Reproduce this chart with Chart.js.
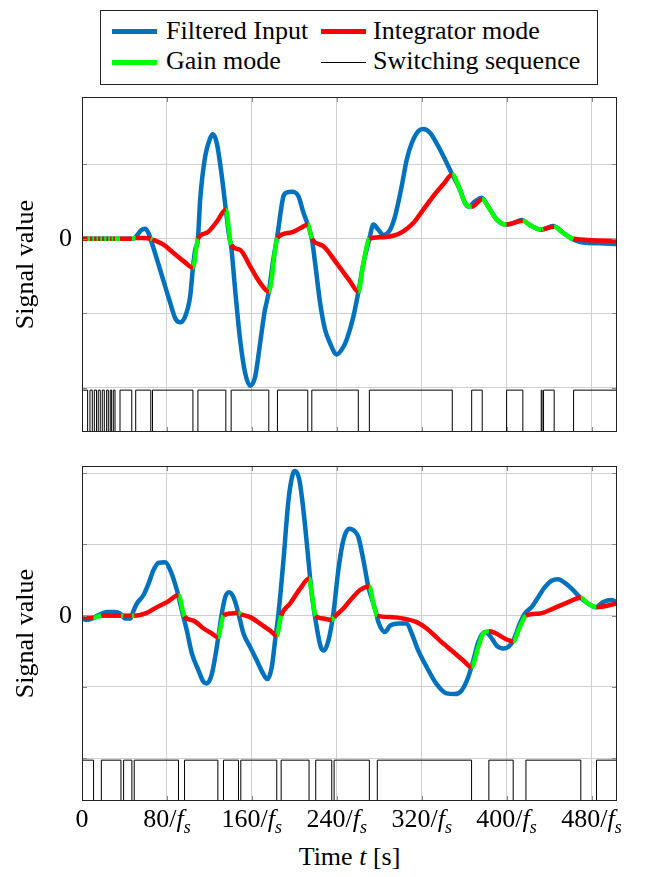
<!DOCTYPE html>
<html>
<head>
<meta charset="utf-8">
<script src="https://cdn.jsdelivr.net/npm/chart.js@4.4.1/dist/chart.umd.min.js"></script>
<style>
  body { margin: 0; background: #fff; }
  #page { position: relative; width: 648px; height: 877px; font-family: "Liberation Serif", "Times New Roman", serif; color: #000; }
  .panel { position: absolute; left: 0; width: 648px; height: 350px; }
  #legendBox { position: absolute; left: 100px; top: 10px; width: 498px; height: 75px; box-sizing: border-box; border: 1px solid #222; }
  .swatch { position: absolute; width: 45px; }
  .ltext, .xlab, #xtitle { position: absolute; font-size: 26px; line-height: 30px; white-space: nowrap; }
  .xlab { top: 804px; transform: translateX(-50%); }
  #xtitle { top: 842px; transform: translateX(-50%); }
  sub { font-size: 18px; vertical-align: -6px; line-height: 0; }
</style>
</head>
<body>
<div id="page">
  <div id="legendBox"></div>
  <div class="swatch" style="left:112px;top:29px;height:5px;background:rgb(0,114,189)"></div>
  <div class="ltext" style="left:166px;top:16px">Filtered Input</div>
  <div class="swatch" style="left:321px;top:29px;height:5px;background:rgb(255,0,0)"></div>
  <div class="ltext" style="left:373px;top:16px">Integrator mode</div>
  <div class="swatch" style="left:112px;top:60px;height:5px;background:rgb(0,255,0)"></div>
  <div class="ltext" style="left:166px;top:46px">Gain mode</div>
  <div class="swatch" style="left:321px;top:62px;height:1px;background:#000"></div>
  <div class="ltext" style="left:373px;top:46px">Switching sequence</div>

  <div class="panel" style="top:90px"><canvas id="topChart" width="648" height="350"></canvas></div>
  <div class="panel" style="top:460px"><canvas id="bottomChart" width="648" height="350"></canvas></div>
  <div id="xtitle">Time <i>t</i> [s]</div>
</div>
<script>
// x ticks, in samples
const xTickValues = [0, 80, 160, 240, 320, 400, 480]
const xTickLabels = ["0", "80", "160", "240", "320", "400", "480"]

// ---- top panel ----
const topInputT = [0, 20, 40, 48.6, 51.5, 55.5, 59.5, 62.5, 65.9, 73.7, 83.1, 88, 92.5, 97.2, 101.9, 104.5, 106.6, 109.2, 111.3, 116, 120.8, 123.3, 127, 131.7, 135.5, 138.9, 140.5, 144.3, 149, 153.7, 158.4, 163.1, 167.8, 172, 176, 180, 184.1, 189.8, 193, 197.6, 203.9, 208.6, 212.7, 216.5, 220, 224.3, 229, 233.7, 240, 246.2, 249.4, 255.7, 260.4, 265.1, 270.7, 274.5, 279.2, 283.9, 290.2, 294.9, 301.1, 305.9, 310.6, 316.8, 321.5, 327.8, 334.1, 340.4, 348.8, 356, 360.8, 364, 370.2, 376.4, 382.7, 390.6, 399, 406.2, 414.1, 423.5, 432.6, 443.9, 453.3, 462.7, 472.1, 487.8, 504]
const topInputV = [0, 0, 0, 0, 0.04, 0.11, 0.135, 0.08, -0.06, -0.42, -0.86, -1.07, -1.12, -1.04, -0.77, -0.39, -0.15, 0.0, 0.52, 1.1, 1.35, 1.4, 1.28, 0.84, 0.39, 0.01, -0.1, -0.69, -1.36, -1.8, -1.97, -1.85, -1.4, -0.98, -0.71, -0.3, 0.05, 0.57, 0.62, 0.63, 0.57, 0.35, 0.19, 0.0, -0.37, -0.86, -1.22, -1.4, -1.55, -1.45, -1.35, -1.04, -0.71, -0.33, 0.0, 0.19, 0.12, 0.05, 0.12, 0.3, 0.7, 1.06, 1.28, 1.44, 1.47, 1.42, 1.28, 1.11, 0.86, 0.66, 0.48, 0.43, 0.5, 0.55, 0.43, 0.26, 0.19, 0.21, 0.25, 0.17, 0.12, 0.17, 0.08, -0.01, -0.05, -0.06, -0.07]

const topOutputT = [0, 5.3, 7.5, 9.7, 11.6, 13.7, 15.3, 17.2, 19.1, 21, 23.2, 24.8, 26.6, 27.9, 29.5, 31.1, 35.8, 46.9, 50.6, 57, 64.8, 66.4, 76.8, 86.2, 95.7, 104.5, 109.2, 117.6, 127, 135.5, 140.5, 149, 158.4, 167.8, 176, 184.1, 196, 205.5, 212.7, 216.5, 227.4, 240, 252.5, 260.3, 265.1, 270.7, 280.8, 293.3, 302.7, 312.1, 321.5, 330.9, 340.4, 348.8, 356, 360.8, 367.1, 377, 382.7, 390.6, 400, 415.3, 423.5, 432.6, 433.4, 434.8, 444.8, 453.3, 463.1, 504]
const topOutputV = [0, 0, 0, 0, 0, 0, 0, 0, 0, 0, 0, 0, 0, 0, 0, 0, 0, 0, 0.01, 0.01, 0, -0.01, -0.08, -0.19, -0.3, -0.39, 0.0, 0.08, 0.23, 0.39, -0.08, -0.15, -0.37, -0.59, -0.71, 0.01, 0.08, 0.14, 0.19, 0.0, -0.1, -0.33, -0.57, -0.71, -0.33, 0.0, 0.02, 0.04, 0.1, 0.21, 0.39, 0.57, 0.73, 0.86, 0.66, 0.48, 0.43, 0.53, 0.43, 0.26, 0.19, 0.24, 0.17, 0.12, 0.125, 0.13, 0.16, 0.08, 0.0, -0.03]

// switching sequence: time of each edge and level after it (1 = integrator, 0 = gain)
const topSwitchT = [0, 5.3, 7.5, 9.7, 11.6, 13.7, 15.3, 17.2, 19.1, 21, 23.2, 24.8, 26.6, 27.9, 29.5, 31.1, 35.8, 46.9, 50.6, 64.8, 66.4, 104.5, 109.2, 135.5, 140.5, 176, 184.1, 212.7, 216.5, 260.3, 270.7, 348.8, 367.1, 377, 400, 415.3, 432.6, 433.4, 434.8, 444.8, 463.1, 504]
const topSwitchLevel = [1, 0, 1, 0, 1, 0, 1, 0, 1, 0, 1, 0, 1, 0, 1, 0, 1, 0, 1, 0, 1, 0, 1, 0, 1, 0, 1, 0, 1, 0, 1, 0, 1, 0, 1, 0, 1, 0, 1, 0, 1, 1]

// ---- bottom panel ----
const botInputT = [0, 4.7, 10.9, 17.2, 23.5, 31.3, 36, 40.8, 45.5, 48.6, 51.7, 58, 62.7, 67.4, 72.1, 78.4, 83.1, 89.4, 94.1, 98.8, 103.5, 109.8, 114.5, 117.6, 122.3, 127, 131.7, 134.9, 138.6, 142.7, 147.4, 152.1, 158.4, 164.7, 170.9, 174.7, 178.8, 181.9, 185.1, 189.8, 194.5, 198.6, 200.8, 204.8, 208.6, 212.4, 216.4, 221.1, 224.9, 228, 232.1, 236.8, 241.5, 246.2, 251.9, 257.2, 260.4, 265.1, 269.8, 274.5, 277.6, 279.2, 285.5, 290.2, 298, 305.9, 310.6, 316.8, 324.7, 334.1, 343.5, 351.3, 357.6, 363.9, 368.6, 373.3, 379.6, 384.3, 390.6, 396.8, 401.5, 406.2, 412.5, 417.2, 423.5, 429.8, 436, 442.3, 448.6, 454.9, 462.7, 469, 476.8, 484.1, 490.9, 498.8, 504]
const botInputV = [-0.04, -0.06, -0.03, 0.02, 0.05, 0.05, 0.03, -0.04, -0.04, 0.07, 0.17, 0.29, 0.45, 0.64, 0.74, 0.75, 0.64, 0.36, 0.07, -0.21, -0.53, -0.77, -0.93, -0.95, -0.82, -0.44, 0.03, 0.26, 0.33, 0.26, 0.03, -0.25, -0.44, -0.63, -0.82, -0.89, -0.72, -0.35, 0.03, 0.78, 1.62, 1.99, 2.03, 1.9, 1.48, 0.92, 0.31, -0.16, -0.44, -0.49, -0.35, 0.03, 0.64, 1.06, 1.22, 1.18, 1.1, 0.78, 0.4, 0.17, 0.01, -0.09, -0.23, -0.14, -0.11, -0.11, -0.25, -0.49, -0.72, -0.96, -1.09, -1.1, -1.05, -0.86, -0.63, -0.37, -0.23, -0.28, -0.42, -0.46, -0.44, -0.35, -0.11, 0.03, 0.12, 0.26, 0.4, 0.49, 0.51, 0.46, 0.36, 0.26, 0.17, 0.12, 0.19, 0.22, 0.19]

const botOutputT = [0, 10.9, 18.2, 36.7, 39.2, 47, 49.2, 61.1, 70.6, 80, 90.9, 96.6, 105.1, 114.5, 122.3, 128, 133.3, 140, 147.4, 149.6, 158.4, 167.8, 177.2, 183.5, 187.6, 196, 205.5, 213.9, 217, 220.2, 227.4, 235.3, 237.5, 246.2, 254.1, 261.9, 270.7, 274.5, 278.2, 290.2, 305.9, 315.3, 324.7, 337.2, 349.8, 359.2, 367, 373.3, 378, 383.3, 406.2, 412.5, 418.2, 431.3, 443.9, 456.4, 469.9, 476.8, 484.7, 504]
const botOutputV = [-0.03, -0.03, 0.0, 0.0, 0.0, 0.0, 0.0, 0.04, 0.12, 0.19, 0.285, -0.01, -0.07, -0.18, -0.25, -0.3, 0.0, 0.03, 0.04, 0.02, -0.02, -0.11, -0.21, -0.28, 0.0, 0.17, 0.38, 0.52, 0.25, 0.0, -0.04, -0.06, -0.02, 0.1, 0.24, 0.36, 0.41, 0.17, 0.0, -0.02, -0.05, -0.09, -0.18, -0.35, -0.51, -0.63, -0.72, -0.44, -0.25, -0.22, -0.36, -0.16, 0.0, 0.03, 0.1, 0.18, 0.25, 0.17, 0.12, 0.17]

const botSwitchT = [0, 10.9, 18.2, 36.7, 39.2, 47, 49.2, 90.9, 96.6, 128, 133.3, 147.4, 149.6, 183.5, 187.6, 213.9, 220.2, 235.3, 237.5, 270.7, 278.2, 367, 383.3, 406.2, 418.2, 469.9, 484.7, 504]
const botSwitchLevel = [1, 0, 1, 0, 1, 0, 1, 0, 1, 0, 1, 0, 1, 0, 1, 0, 1, 0, 1, 0, 1, 0, 1, 0, 1, 0, 1, 1]

const RED = "rgb(255,0,0)"
const GREEN = "rgb(0,255,0)"
const BLUE = "rgb(0,114,189)"
const FONT = "'Liberation Serif', 'Times New Roman', serif"

function pts(t, v) {
    return t.map((x, i) => ({ x: x, y: v[i] }))
}

function levelAt(times, levels, x) {
    let lv = levels[0]
    for (let i = 0; i < times.length; i++) {
        if (times[i] <= x) lv = levels[i]
        else break
    }
    return lv
}

// box round the plot area plus the small inner tick marks
const framePlugin = {
    id: "frame",
    afterDatasetsDraw(chart) {
        const { ctx, chartArea: a, scales } = chart
        ctx.save()
        ctx.lineWidth = 1
        ctx.strokeStyle = "#8a8a8a"
        ctx.beginPath()
        scales.y.ticks.forEach(t => {
            const y = Math.round(scales.y.getPixelForValue(t.value)) + 0.5
            ctx.moveTo(a.left, y); ctx.lineTo(a.left + 5, y)
            ctx.moveTo(a.right, y); ctx.lineTo(a.right - 5, y)
        })
        scales.x.ticks.forEach(t => {
            const x = Math.round(scales.x.getPixelForValue(t.value)) + 0.5
            ctx.moveTo(x, a.top); ctx.lineTo(x, a.top + 5)
            ctx.moveTo(x, a.bottom); ctx.lineTo(x, a.bottom - 5)
        })
        ctx.stroke()
        ctx.strokeStyle = "#222"
        ctx.strokeRect(Math.round(a.left) + 0.5, Math.round(a.top) + 0.5,
            Math.round(a.right - a.left) - 1, Math.round(a.bottom - a.top) - 1)
        ctx.restore()
    }
}

function makePanel(id, d) {
    return new Chart(document.getElementById(id), {
        type: "line",
        data: {
            datasets: [
                {
                    label: "Output",
                    data: pts(d.outT, d.outV),
                    order: 0,
                    borderColor: RED,
                    borderWidth: 4.5,
                    borderJoinStyle: "round",
                    cubicInterpolationMode: "monotone",
                    pointRadius: 0,
                    segment: {
                        borderColor: c => levelAt(d.swT, d.swL, (c.p0.parsed.x + c.p1.parsed.x) / 2) ? RED : GREEN
                    }
                },
                {
                    label: "Filtered Input",
                    data: pts(d.inT, d.inV),
                    order: 1,
                    borderColor: BLUE,
                    borderWidth: 4.5,
                    borderJoinStyle: "round",
                    cubicInterpolationMode: "monotone",
                    pointRadius: 0
                },
                {
                    label: "Switching sequence",
                    data: pts(d.swT, d.swL),
                    order: 2,
                    borderColor: "#000",
                    borderWidth: 1,
                    stepped: "before",
                    pointRadius: 0,
                    yAxisID: "ySw"
                }
            ]
        },
        options: {
            responsive: false,
            animation: false,
            devicePixelRatio: 1,
            layout: { padding: { top: d.padTop, bottom: d.padBottom, left: 0, right: 31 } },
            plugins: { legend: { display: false }, tooltip: { enabled: false } },
            scales: {
                x: {
                    type: "linear",
                    min: 0,
                    max: 504,
                    afterFit: s => { s.height = 0; s.paddingLeft = 0; s.paddingRight = 0 },
                    ticks: { display: false, stepSize: 80, includeBounds: false },
                    grid: { color: "#d0d0d0", drawTicks: false },
                    border: { display: false }
                },
                y: {
                    min: d.yMin,
                    max: d.yMax,
                    afterFit: s => { s.width = 82; s.paddingTop = 0; s.paddingBottom = 0 },
                    ticks: {
                        stepSize: 1,
                        includeBounds: false,
                        padding: 10,
                        color: "#000",
                        font: { family: FONT, size: 26 },
                        callback: v => v === 0 ? "0" : ""
                    },
                    grid: { color: "#d0d0d0", drawTicks: false },
                    border: { display: false },
                    title: {
                        display: true,
                        text: "Signal value",
                        color: "#000",
                        font: { family: FONT, size: 26 },
                        padding: { top: 11, bottom: 0 }
                    }
                },
                ySw: { display: false, min: 0, max: d.swMax }
            }
        },
        plugins: [framePlugin]
    })
}

makePanel("topChart", {
    inT: topInputT, inV: topInputV,
    outT: topOutputT, outV: topOutputV,
    swT: topSwitchT, swL: topSwitchLevel,
    yMin: -2.59, yMax: 1.9, swMax: 8.0,
    padTop: 7, padBottom: 8
})

const bottom = makePanel("bottomChart", {
    inT: botInputT, inV: botInputV,
    outT: botOutputT, outV: botOutputV,
    swT: botSwitchT, swL: botSwitchLevel,
    yMin: -2.6, yMax: 2.1, swMax: 8.2,
    padTop: 6, padBottom: 9
})

// x tick labels with italic f_s, placed at the bottom chart's tick positions
const page = document.getElementById("page")
const sx = bottom.scales.x
xTickValues.forEach((v, i) => {
    const el = document.createElement("div")
    el.className = "xlab"
    el.style.left = sx.getPixelForValue(v) + "px"
    el.innerHTML = v === 0 ? xTickLabels[i] : xTickLabels[i] + "/<i>f<sub>s</sub></i>"
    page.appendChild(el)
})
const area = bottom.chartArea
document.getElementById("xtitle").style.left = ((area.left + area.right) / 2) + "px"
</script>
</body>
</html>
